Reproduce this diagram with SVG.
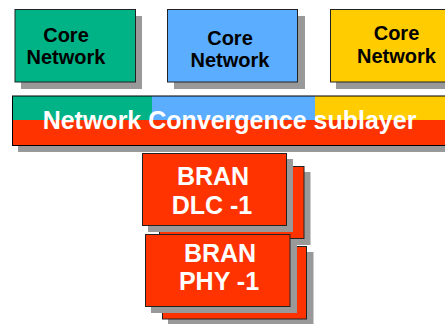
<svg xmlns="http://www.w3.org/2000/svg" width="445" height="324" viewBox="0 0 445 324">
  <style>
    .shadow { fill: #999999; }
    .box { stroke: #222222; stroke-width: 1; }
    .green { fill: #00B386; }
    .blue { fill: #5AADFF; }
    .yellow { fill: #FFCC00; }
    .red { fill: #FF3300; }
    .dark { font-family: "Liberation Sans", Arial, sans-serif; font-weight: bold; font-size: 20px; fill: #000000; text-anchor: middle; }
    .light { font-family: "Liberation Sans", Arial, sans-serif; font-weight: bold; font-size: 25px; fill: #FFFFFF; text-anchor: middle; }
  </style>
  <rect width="445" height="324" fill="#FFFFFF"/>

  <g id="core-network-1">
    <rect class="shadow" x="21" y="16" width="121" height="73"/>
    <rect class="box green" x="15" y="9.5" width="120.5" height="72.5"/>
    <text class="dark" x="66" y="41.5">Core</text>
    <text class="dark" x="66" y="64">Network</text>
  </g>

  <g id="core-network-2">
    <rect class="shadow" x="174" y="16" width="131" height="73"/>
    <rect class="box blue" x="167.5" y="9.5" width="130" height="72.5"/>
    <text class="dark" x="230" y="44.5">Core</text>
    <text class="dark" x="230" y="66.5">Network</text>
  </g>

  <g id="core-network-3">
    <rect class="shadow" x="336" y="16" width="115" height="73"/>
    <rect class="box yellow" x="330.5" y="9.5" width="120" height="72.5"/>
    <text class="dark" x="396.5" y="40">Core</text>
    <text class="dark" x="396.5" y="63">Network</text>
  </g>

  <g id="convergence-sublayer">
    <rect class="shadow" x="18" y="102" width="433" height="50"/>
    <rect class="red" x="12.5" y="96" width="440" height="49.5"/>
    <rect class="green" x="12.5" y="96" width="139.5" height="24"/>
    <rect class="blue" x="152" y="96" width="163" height="24"/>
    <rect class="yellow" x="315" y="96" width="137" height="24"/>
    <rect x="12.5" y="96" width="440" height="49.5" fill="none" stroke="#000000" stroke-width="1"/>
    <text class="light" x="229.5" y="128.5">Network Convergence sublayer</text>
  </g>

  <g id="bran-dlc">
    <rect class="shadow" x="165" y="172" width="145.5" height="73"/>
    <rect class="box red" x="159.5" y="166.5" width="144.5" height="72"/>
    <rect class="shadow" x="148" y="159" width="145" height="73"/>
    <rect class="box red" x="142.5" y="153.5" width="144" height="72"/>
    <text class="light" x="213" y="185">BRAN</text>
    <text class="light" x="212" y="213.5">DLC -1</text>
  </g>

  <g id="bran-phy">
    <rect class="shadow" x="168" y="252" width="145.5" height="72"/>
    <rect class="box red" x="162.5" y="246.5" width="144" height="72.5"/>
    <rect class="shadow" x="151" y="240" width="146" height="73"/>
    <rect class="box red" x="145.5" y="234.5" width="144.5" height="72"/>
    <text class="light" x="220" y="261.5">BRAN</text>
    <text class="light" x="219" y="290">PHY -1</text>
  </g>
</svg>
